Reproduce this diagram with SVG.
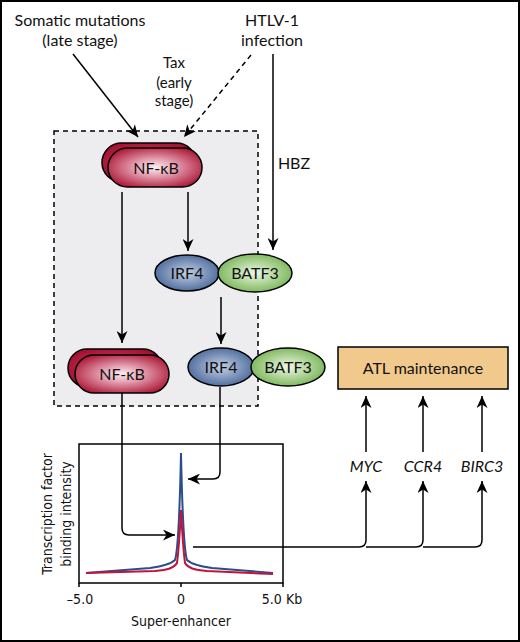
<svg xmlns="http://www.w3.org/2000/svg" width="520" height="642" viewBox="0 0 520 642">
<defs>
<radialGradient id="gRed" cx="0.5" cy="0.5" r="0.6">
<stop offset="0" stop-color="#fbeef2"/><stop offset="0.35" stop-color="#e6a2b4"/><stop offset="1" stop-color="#a8102f"/>
</radialGradient>
<radialGradient id="gRedBack" cx="0.5" cy="0.5" r="0.6">
<stop offset="0" stop-color="#d9466a"/><stop offset="1" stop-color="#a00c2c"/>
</radialGradient>
<radialGradient id="gBlue" cx="0.5" cy="0.5" r="0.6">
<stop offset="0" stop-color="#c4d0e4"/><stop offset="1" stop-color="#3c5d92"/>
</radialGradient>
<radialGradient id="gGreen" cx="0.5" cy="0.5" r="0.6">
<stop offset="0" stop-color="#eef7e6"/><stop offset="1" stop-color="#6aae45"/>
</radialGradient>
<marker id="ah" markerUnits="userSpaceOnUse" markerWidth="13" markerHeight="11" refX="12" refY="5.5" orient="auto">
<path d="M0,0 L12,5.5 L0,11 L3.5,5.5 z" fill="#000"/>
</marker>
</defs>
<style>
.lbl{font-family:Lato,"Liberation Sans",sans-serif;font-size:16px;fill:#111;text-anchor:middle}
.sm{font-size:15px}
.gene{font-family:Lato,"Liberation Sans",sans-serif;font-size:16px;font-style:italic;fill:#111;text-anchor:middle}
.nar{font-family:"Liberation Sans Narrow","DejaVu Sans Condensed","Liberation Sans",sans-serif;font-size:14px;fill:#111;text-anchor:middle}
.ln{fill:none;stroke:#000;stroke-width:1.5}
.node{stroke:#000;stroke-width:1.5}
</style>
<rect x="1" y="1" width="518" height="640" fill="#fff" stroke="#000" stroke-width="2"/>

<g id="complex-box">
<rect x="54" y="131" width="204" height="275" fill="#ededf0" stroke="#000" stroke-width="1.5" stroke-dasharray="5,4"/>
</g>

<g id="labels-top">
<text class="lbl" x="80" y="26">Somatic mutations</text>
<text class="lbl" x="80" y="46">(late stage)</text>
<text class="lbl" x="272" y="26">HTLV-1</text>
<text class="lbl" x="272" y="46">infection</text>
<text class="lbl sm" x="174" y="68">Tax</text>
<text class="lbl sm" x="174" y="88">(early</text>
<text class="lbl sm" x="174" y="106">stage)</text>
<text class="lbl" x="294" y="169">HBZ</text>
</g>

<g id="nfkb-top">
<rect class="node" x="102" y="143" width="94" height="39" rx="19.5" fill="url(#gRedBack)"/>
<rect class="node" x="108" y="148" width="94" height="39" rx="19.5" fill="url(#gRed)"/>
<text class="lbl" x="156" y="174">NF-κB</text>
</g>

<g id="irf4-batf3-top">
<ellipse class="node" cx="187" cy="273" rx="32" ry="18" fill="url(#gBlue)"/>
<ellipse class="node" cx="255" cy="273" rx="37" ry="19" fill="url(#gGreen)"/>
<text class="lbl" x="187" y="279">IRF4</text>
<text class="lbl" x="255" y="279">BATF3</text>
</g>

<g id="nfkb-bottom">
<rect class="node" x="68" y="349" width="94" height="38" rx="19" fill="url(#gRedBack)"/>
<rect class="node" x="75" y="355" width="94" height="38" rx="19" fill="url(#gRed)"/>
<text class="lbl" x="122" y="380">NF-κB</text>
</g>

<g id="irf4-batf3-bottom">
<ellipse class="node" cx="221" cy="367" rx="33" ry="19" fill="url(#gBlue)"/>
<ellipse class="node" cx="288" cy="367" rx="37" ry="19" fill="url(#gGreen)"/>
<text class="lbl" x="221" y="373">IRF4</text>
<text class="lbl" x="288" y="373">BATF3</text>
</g>

<g id="atl">
<rect x="338" y="347" width="170" height="42" fill="#f1c98c" stroke="#000" stroke-width="1.5"/>
<text class="lbl" x="423" y="374">ATL maintenance</text>
</g>

<g id="genes">
<text class="gene" x="366" y="472">MYC</text>
<text class="gene" x="423" y="472">CCR4</text>
<text class="gene" x="482" y="472">BIRC3</text>
</g>

<g id="chart">
<rect x="79" y="444" width="204" height="139" fill="#fff" stroke="#000" stroke-width="1.5"/>
<path class="ln" d="M79,583 V587 M181,583 V587 M283,583 V587"/>
<path d="M86,573 L150,568 C164,566 171,564 175,560 Q179,548 181,453 Q183,548 187,560 C191,564 198,566 212,568 L273,573" fill="none" stroke="#2b4d8c" stroke-width="2"/>
<path d="M86,573 L155,571 C168,570 174,568 177,563 Q179,548 181,510 Q183,548 185,563 C188,568 194,570 207,571 L273,574" fill="none" stroke="#c3123c" stroke-width="2"/>
<text class="nar" x="80" y="604">–5.0</text>
<text class="nar" x="181" y="604">0</text>
<text class="nar" x="282" y="604">5.0 Kb</text>
<text class="nar" x="181" y="626">Super-enhancer</text>
<text class="nar" transform="translate(52,514) rotate(-90)">Transcription factor</text>
<text class="nar" transform="translate(71,514) rotate(-90)">binding intensity</text>
</g>

<g id="connectors">
<path class="ln" d="M73,54 L138,137" marker-end="url(#ah)"/>
<path class="ln" d="M251,55 L184,137" stroke-dasharray="5,4" marker-end="url(#ah)"/>
<path class="ln" d="M273,54 L273,250" marker-end="url(#ah)"/>
<path class="ln" d="M188,192 L188,251" marker-end="url(#ah)"/>
<path class="ln" d="M122,192 L122,343" marker-end="url(#ah)"/>
<path class="ln" d="M221,297 L221,344" marker-end="url(#ah)"/>
<path class="ln" d="M122,393 L122,528 Q122,535 129,535 L175,535" marker-end="url(#ah)"/>
<path class="ln" d="M220,387 L220,472 Q220,479 213,479 L188,479" marker-end="url(#ah)"/>
<path class="ln" d="M193,547 L359,547 Q366,547 366,540 L366,481" marker-end="url(#ah)"/>
<path class="ln" d="M366,547 L416,547 Q423,547 423,540 L423,481" marker-end="url(#ah)"/>
<path class="ln" d="M423,547 L475,547 Q482,547 482,540 L482,481" marker-end="url(#ah)"/>
<path class="ln" d="M366,452 L366,396" marker-end="url(#ah)"/>
<path class="ln" d="M423,452 L423,396" marker-end="url(#ah)"/>
<path class="ln" d="M482,452 L482,396" marker-end="url(#ah)"/>
</g>
</svg>
